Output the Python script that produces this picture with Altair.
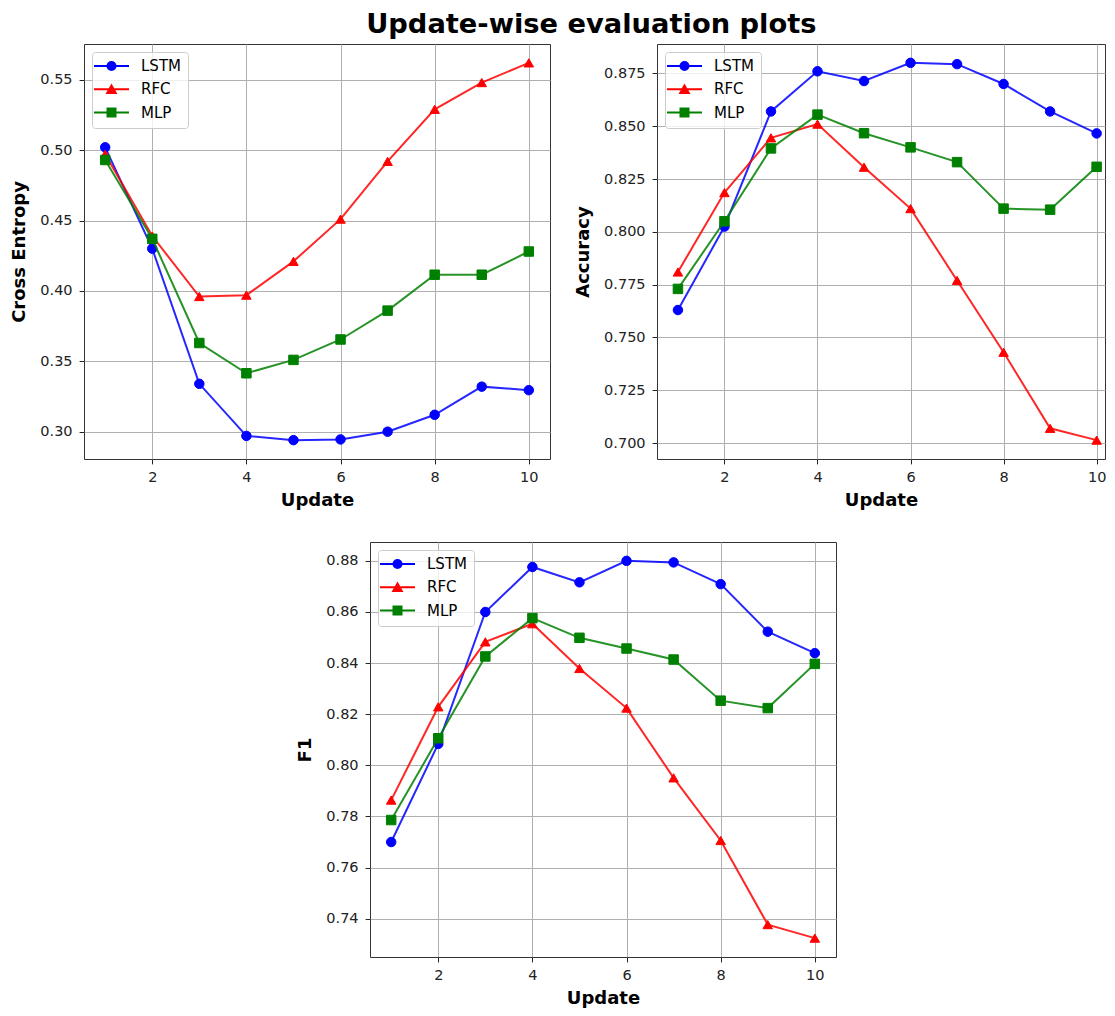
import altair as alt
import pandas as pd

# ---------------- data ----------------
updates = [1, 2, 3, 4, 5, 6, 7, 8, 9, 10]
models = ["LSTM", "RFC", "MLP"]
colors = ["#0000ff", "#ff0000", "#008000"]
shapes = ["circle", "triangle-up", "square"]

ce_lstm = [0.502, 0.430, 0.334, 0.297, 0.294, 0.2945, 0.300, 0.312, 0.332, 0.3295]
ce_rfc = [0.497, 0.439, 0.396, 0.397, 0.421, 0.451, 0.492, 0.529, 0.548, 0.562]
ce_mlp = [0.493, 0.437, 0.363, 0.3415, 0.351, 0.3655, 0.386, 0.4115, 0.4115, 0.428]

acc_lstm = [0.763, 0.8025, 0.857, 0.876, 0.8714, 0.880, 0.8794, 0.870, 0.857, 0.8466]
acc_rfc = [0.781, 0.8186, 0.8445, 0.851, 0.8306, 0.811, 0.777, 0.743, 0.707, 0.7014]
acc_mlp = [0.773, 0.805, 0.8395, 0.8555, 0.8467, 0.840, 0.833, 0.811, 0.8105, 0.8308]

f1_lstm = [0.770, 0.8084, 0.860, 0.8776, 0.8716, 0.880, 0.8794, 0.8709, 0.8523, 0.8439]
f1_rfc = [0.7864, 0.8229, 0.8483, 0.8554, 0.8379, 0.8224, 0.7951, 0.7706, 0.7377, 0.7324]
f1_mlp = [0.7786, 0.8106, 0.8426, 0.8576, 0.8499, 0.8457, 0.8414, 0.8253, 0.8224, 0.8397]

x_ticks = [2, 4, 6, 8, 10]
ce_ticks = [0.30, 0.35, 0.40, 0.45, 0.50, 0.55]
acc_ticks = [0.700, 0.725, 0.750, 0.775, 0.800, 0.825, 0.850, 0.875]
f1_ticks = [0.74, 0.76, 0.78, 0.80, 0.82, 0.84, 0.86, 0.88]

FONT = "DejaVu Sans"
H = 415

# legend symbols: line segment + marker (unit coords, scaled by sqrt(size)/2)
P_LINE = "M-2.4,0H4.6"
P_CIRCLE = P_LINE + "M1.9,0A0.8,0.8 0 1,1 0.3,0A0.8,0.8 0 1,1 1.9,0Z"
P_TRI = P_LINE + "M1.1,-0.75L0.25,0.72L1.95,0.72Z"
P_SQ = P_LINE + "M0.3,-0.8H1.9V0.8H0.3Z"

sym_expr = ("datum.value === 'LSTM' ? '%s' : datum.value === 'RFC' ? '%s' : '%s'"
            % (P_CIRCLE, P_TRI, P_SQ))


def make_legend():
    return alt.Legend(
        title=None,
        orient="top-left",
        offset=8,
        padding=6.5,
        rowPadding=6.3,
        symbolSize=100,
        symbolType=alt.ExprRef(expr=sym_expr),
        symbolStrokeWidth=2,
        symbolOpacity=1,
        labelOffset=27.5,
        labelFont=FONT,
        labelFontSize=15,
        labelColor="#000000",
        strokeColor="#cccccc",
        fillColor="rgba(255,255,255,0.8)",
        cornerRadius=3,
    )


def panel(title, series, yticks, fmt, width, xmax):
    rows = []
    for m, vals in zip(models, series):
        for u, v in zip(updates, vals):
            rows.append({"update": u, "value": v, "model": m})
    df = pd.DataFrame(rows)
    allv = [v for s in series for v in s]
    lo, hi = min(allv), max(allv)
    pad = (hi - lo) * 0.05

    xenc = alt.X("update:Q", scale=alt.Scale(domain=[0.55, xmax], nice=False, zero=False),
                 axis=alt.Axis(values=x_ticks, format="d", title="Update",
                               titlePadding=7))
    yenc = alt.Y("value:Q", scale=alt.Scale(domain=[lo - pad, hi + pad], nice=False, zero=False),
                 axis=alt.Axis(values=yticks, format=fmt, title=title,
                               titlePadding=11))
    cscale = alt.Scale(domain=models, range=colors)
    layers = []
    for m, col, shp in zip(models, colors, shapes):
        base = alt.Chart(df).transform_filter(alt.datum.model == m)
        line = base.mark_line(color=col, strokeWidth=2, opacity=0.85).encode(x=xenc, y=yenc)
        pts = base.mark_point(shape=shp, filled=True, size=90, opacity=1, strokeWidth=1).encode(
            x=xenc, y=yenc,
            fill=alt.Fill("model:N", scale=cscale, legend=make_legend()),
            stroke=alt.Stroke("model:N", scale=cscale, legend=make_legend()),
        )
        layers += [line, pts]
    return alt.layer(*layers).properties(width=width, height=H)


ce = panel("Cross Entropy", [ce_lstm, ce_rfc, ce_mlp], ce_ticks, ".2f", 466, 10.45)
acc = panel("Accuracy", [acc_lstm, acc_rfc, acc_mlp], acc_ticks, ".3f", 448, 10.18)
f1 = panel("F1", [f1_lstm, f1_rfc, f1_mlp], f1_ticks, ".2f", 466, 10.45)

spacer = alt.Chart(pd.DataFrame({"a": [0]})).mark_point(opacity=0).encode(
    x=alt.value(0), y=alt.value(0)
).properties(width=192, height=H, view=alt.ViewBackground(strokeOpacity=0))


def indep(c):
    return c.resolve_scale(fill="independent", stroke="independent").resolve_legend(
        fill="independent", stroke="independent")


top = indep(alt.hconcat(ce, acc, spacing=23))
bottom = indep(alt.hconcat(spacer, f1, spacing=20))

chart = indep(alt.vconcat(top, bottom, spacing=29)).properties(
    title=alt.TitleParams("Update-wise evaluation plots", font=FONT, fontSize=27.3,
                          fontWeight="bold", color="#000000", anchor="middle",
                          offset=5, dx=33),
    padding={"left": 2, "top": 3, "right": 0, "bottom": 0},
).configure_view(
    stroke="#333333", strokeWidth=1
).configure_axis(
    labelFont=FONT, labelFontSize=14.5, labelColor="#222222",
    titleFont=FONT, titleFontSize=18, titleFontWeight="bold", titleColor="#000000",
    tickSize=4.9, tickColor="#222222", tickWidth=1, labelPadding=7,
    grid=True, gridColor="#b0b0b0", gridWidth=1, domain=False,
)

chart.save("out.html", embed_options={"renderer": "svg", "actions": False})
